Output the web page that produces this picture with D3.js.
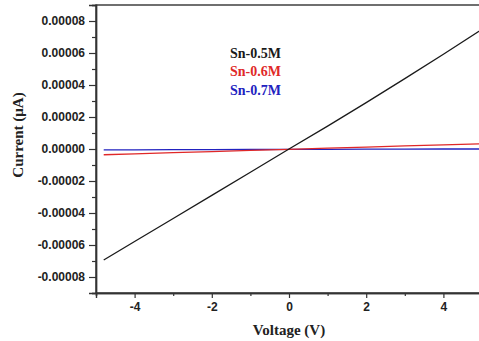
<!DOCTYPE html>
<html>
<head>
<meta charset="utf-8">
<script src="https://cdn.jsdelivr.net/npm/d3@7"></script>
<style>
  html, body { margin: 0; padding: 0; background: #fff; }
  svg { display: block; overflow: hidden; }
</style>
</head>
<body>
<svg id="chart" width="479" height="341"></svg>
<script>
// ---- data ----
const voltage = [-4.8, -4, -3, -2, -1, 0, 1, 2, 3, 4, 5];
const sn05 = [-0.0000694, -0.0000578, -0.0000434, -0.0000290, -0.0000145, 0, 0.0000143, 0.0000290, 0.0000440, 0.0000592, 0.0000748];
const sn06 = [-0.0000036, -0.0000030, -0.0000023, -0.0000016, -0.0000009, -0.0000002, 0.0000005, 0.0000012, 0.0000019, 0.0000026, 0.0000032];
const sn07 = [-0.0000006, -0.0000005, -0.0000004, -0.0000004, -0.0000003, -0.0000002, -0.0000002, -0.0000001, -0.0000001, 0, 0];
const seriesNames = ["Sn-0.5M", "Sn-0.6M", "Sn-0.7M"];
const xTicks = [-4, -2, 0, 2, 4];
const xMinorTicks = [-5, -3, -1, 1, 3, 5];
const yTicks = [-0.00008, -0.00006, -0.00004, -0.00002, 0, 0.00002, 0.00004, 0.00006, 0.00008];
const yMinorTicks = [-0.00009, -0.00007, -0.00005, -0.00003, -0.00001, 0.00001, 0.00003, 0.00005, 0.00007, 0.00009];
const xTitle = "Voltage (V)";
const yTitle = "Current (\u03BCA)";

// ---- layout ----
const colors = ["#1a1a1a", "#e02828", "#2222c0"];
const svg = d3.select("#chart");
const mLeft = 96, mRight = 482, mTop = 5, mBottom = 293;
const x = d3.scaleLinear().domain([-5, 5]).range([mLeft, mRight]);
const y = d3.scaleLinear().domain([-0.00009, 0.00009]).range([mBottom, mTop]);

const axisColor = "#333";
const tickFont = "Liberation Sans, Arial, sans-serif";
const titleFont = "Liberation Serif, Times New Roman, serif";

// frame
svg.append("rect")
  .attr("x", mLeft).attr("y", mTop)
  .attr("width", mRight - mLeft).attr("height", mBottom - mTop)
  .attr("fill", "none").attr("stroke", axisColor).attr("stroke-width", 1.4);

// x axis
const gx = svg.append("g").attr("transform", `translate(0,${mBottom})`);
gx.call(d3.axisBottom(x).tickValues(xTicks).tickSize(5).tickPadding(4)
  .tickFormat(d => String(d)));
gx.append("g").call(d3.axisBottom(x).tickValues(xMinorTicks).tickSize(3).tickFormat(""));
gx.selectAll(".domain").attr("stroke", axisColor).attr("stroke-width", 1.4);
gx.selectAll(".tick line").attr("stroke", axisColor).attr("stroke-width", 1.2);
gx.selectAll(".tick text")
  .attr("font-family", tickFont).attr("font-weight", "bold").attr("font-size", 12)
  .attr("fill", "#222");

// y axis
const gy = svg.append("g").attr("transform", `translate(${mLeft},0)`);
gy.call(d3.axisLeft(y).tickValues(yTicks).tickSize(7).tickPadding(4)
  .tickFormat(d => (Math.abs(d) < 1e-12 ? 0 : d).toFixed(5)));
gy.append("g").call(d3.axisLeft(y).tickValues(yMinorTicks).tickSize(4).tickFormat(""));
gy.selectAll(".domain").attr("stroke", axisColor).attr("stroke-width", 1.4);
gy.selectAll(".tick line").attr("stroke", axisColor).attr("stroke-width", 1.2);
gy.selectAll(".tick text")
  .attr("font-family", tickFont).attr("font-weight", "bold").attr("font-size", 12)
  .attr("fill", "#222");

// lines
const allSeries = [sn05, sn06, sn07];
const line = d3.line().x((d, i) => x(voltage[i])).y(d => y(d));
svg.append("clipPath").attr("id", "plotclip")
  .append("rect").attr("x", mLeft).attr("y", mTop).attr("width", mRight - mLeft).attr("height", mBottom - mTop);
const gLines = svg.append("g").attr("clip-path", "url(#plotclip)");
[2, 1, 0].forEach(k => {
  gLines.append("path")
    .datum(allSeries[k])
    .attr("d", line)
    .attr("fill", "none")
    .attr("stroke", colors[k])
    .attr("stroke-width", 1.3);
});

// legend
seriesNames.forEach((name, k) => {
  svg.append("text")
    .attr("x", 230).attr("y", 58 + k * 18.4)
    .attr("font-family", titleFont).attr("font-weight", "bold").attr("font-size", 14)
    .attr("fill", colors[k])
    .text(name);
});

// axis titles
svg.append("text")
  .attr("x", (mLeft + mRight) / 2).attr("y", 335)
  .attr("text-anchor", "middle")
  .attr("font-family", titleFont).attr("font-weight", "bold").attr("font-size", 15)
  .attr("fill", "#222")
  .text(xTitle);

svg.append("text")
  .attr("transform", `translate(23,135) rotate(-90)`)
  .attr("text-anchor", "middle")
  .attr("font-family", titleFont).attr("font-weight", "bold").attr("font-size", 15)
  .attr("fill", "#222")
  .text(yTitle);
</script>
</body>
</html>
